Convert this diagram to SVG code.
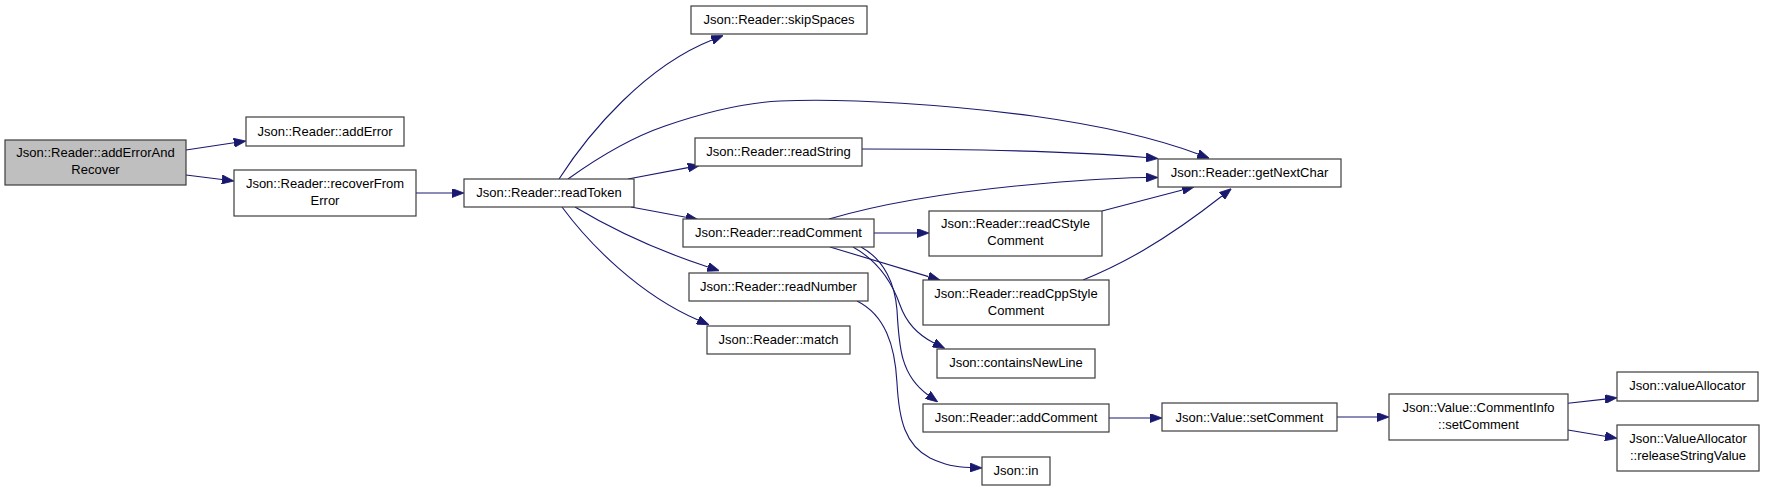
<svg xmlns="http://www.w3.org/2000/svg" width="1765" height="491" viewBox="0 0 1765 491">
<style>
.n rect{fill:#ffffff;stroke:#3c3c3c;stroke-width:1.2}
.n.sel rect{fill:#bfbfbf}
.n text{font-family:"Liberation Sans",Arial,sans-serif;font-size:13px;fill:#000;text-anchor:middle}
.e path{fill:none;stroke:#191970;stroke-width:1.1;marker-end:url(#ah)}
</style>
<defs>
<marker id="ah" markerUnits="userSpaceOnUse" viewBox="0 0 12 9" refX="0" refY="4.5" markerWidth="12" markerHeight="9" orient="auto">
<path d="M0,0 L12,4.5 L0,9 z" fill="#191970" stroke="#191970" stroke-width="0.8"/>
</marker>
</defs>
<rect x="0" y="0" width="1765" height="491" fill="#ffffff"/>
<g id="connectors" class="e">
<path d="M186,150 L234,142.8"/>
<path d="M186,175 L222,179.5"/>
<path d="M416,193 L452,193"/>
<path d="M559,179 C590,131 646,66 712,40"/>
<path d="M568,179 C600,156 630,138 665,126 C700,114 740,103 780,101 C850,98 950,105 1033,116 C1090,124 1150,136 1198,154"/>
<path d="M628,179 L688,167.6"/>
<path d="M631,207 L686,217.3"/>
<path d="M575,207 C610,228 650,248 708,267"/>
<path d="M562,207 C590,245 640,295 698,320"/>
<path d="M862,149 C950,149 1060,150 1146,157.5"/>
<path d="M829,219 C880,204 960,190 1060,182 C1100,179 1125,177.5 1146,177.5"/>
<path d="M874,233 L917,233"/>
<path d="M830,247 L928.5,276.6"/>
<path d="M853,247 C880,262 893,285 900,305 C906,322 916,334 934,343"/>
<path d="M861,247 C885,260 895,285 897,310 C899,345 900,375 928,395"/>
<path d="M857,301 C885,315 895,345 897,383 C899,420 905,445 930,458 C945,465 955,467 970,467.5"/>
<path d="M1102,211 L1182.4,190"/>
<path d="M1083,280 C1120,265 1162,243 1222,196"/>
<path d="M1109,418 L1150,418"/>
<path d="M1337,417 L1377,417"/>
<path d="M1568,403.3 L1605.1,399.1"/>
<path d="M1568,430 L1605.2,436.3"/>
</g>
<g id="node_addErrorAndRecover" class="n sel"><rect x="5" y="140" width="181" height="45"/><text x="95.5" y="157">Json::Reader::addErrorAnd</text><text x="95.5" y="174">Recover</text></g>
<g id="node_addError" class="n"><rect x="246" y="117" width="158" height="29"/><text x="325" y="135.5">Json::Reader::addError</text></g>
<g id="node_recoverFromError" class="n"><rect x="234" y="170" width="182" height="46"/><text x="325" y="187.5">Json::Reader::recoverFrom</text><text x="325" y="204.5">Error</text></g>
<g id="node_readToken" class="n"><rect x="464" y="179" width="170" height="28"/><text x="549" y="197">Json::Reader::readToken</text></g>
<g id="node_skipSpaces" class="n"><rect x="691" y="6" width="176" height="28"/><text x="779" y="24">Json::Reader::skipSpaces</text></g>
<g id="node_readString" class="n"><rect x="695" y="138" width="167" height="28"/><text x="778.5" y="156">Json::Reader::readString</text></g>
<g id="node_readComment" class="n"><rect x="683" y="219" width="191" height="28"/><text x="778.5" y="237">Json::Reader::readComment</text></g>
<g id="node_readNumber" class="n"><rect x="689" y="273" width="179" height="28"/><text x="778.5" y="291">Json::Reader::readNumber</text></g>
<g id="node_match" class="n"><rect x="707" y="326" width="143" height="28"/><text x="778.5" y="344">Json::Reader::match</text></g>
<g id="node_getNextChar" class="n"><rect x="1158" y="159" width="183" height="28"/><text x="1249.5" y="177">Json::Reader::getNextChar</text></g>
<g id="node_readCStyleComment" class="n"><rect x="929" y="211" width="173" height="45"/><text x="1015.5" y="228">Json::Reader::readCStyle</text><text x="1015.5" y="245">Comment</text></g>
<g id="node_readCppStyleComment" class="n"><rect x="923" y="280" width="186" height="45"/><text x="1016" y="297.5">Json::Reader::readCppStyle</text><text x="1016" y="314.5">Comment</text></g>
<g id="node_containsNewLine" class="n"><rect x="937" y="349" width="158" height="29"/><text x="1016" y="367">Json::containsNewLine</text></g>
<g id="node_addComment" class="n"><rect x="923" y="404" width="186" height="28"/><text x="1016" y="422">Json::Reader::addComment</text></g>
<g id="node_in" class="n"><rect x="982" y="457" width="68" height="28"/><text x="1016" y="475">Json::in</text></g>
<g id="node_Value_setComment" class="n"><rect x="1162" y="403" width="175" height="28"/><text x="1249.5" y="421.5">Json::Value::setComment</text></g>
<g id="node_CommentInfo_setComment" class="n"><rect x="1389" y="394" width="179" height="46"/><text x="1478.5" y="412">Json::Value::CommentInfo</text><text x="1478.5" y="429">::setComment</text></g>
<g id="node_valueAllocator" class="n"><rect x="1617" y="372" width="141" height="29"/><text x="1687.5" y="390">Json::valueAllocator</text></g>
<g id="node_releaseStringValue" class="n"><rect x="1617" y="425" width="142" height="46"/><text x="1688" y="442.5">Json::ValueAllocator</text><text x="1688" y="459.5">::releaseStringValue</text></g>
</svg>
